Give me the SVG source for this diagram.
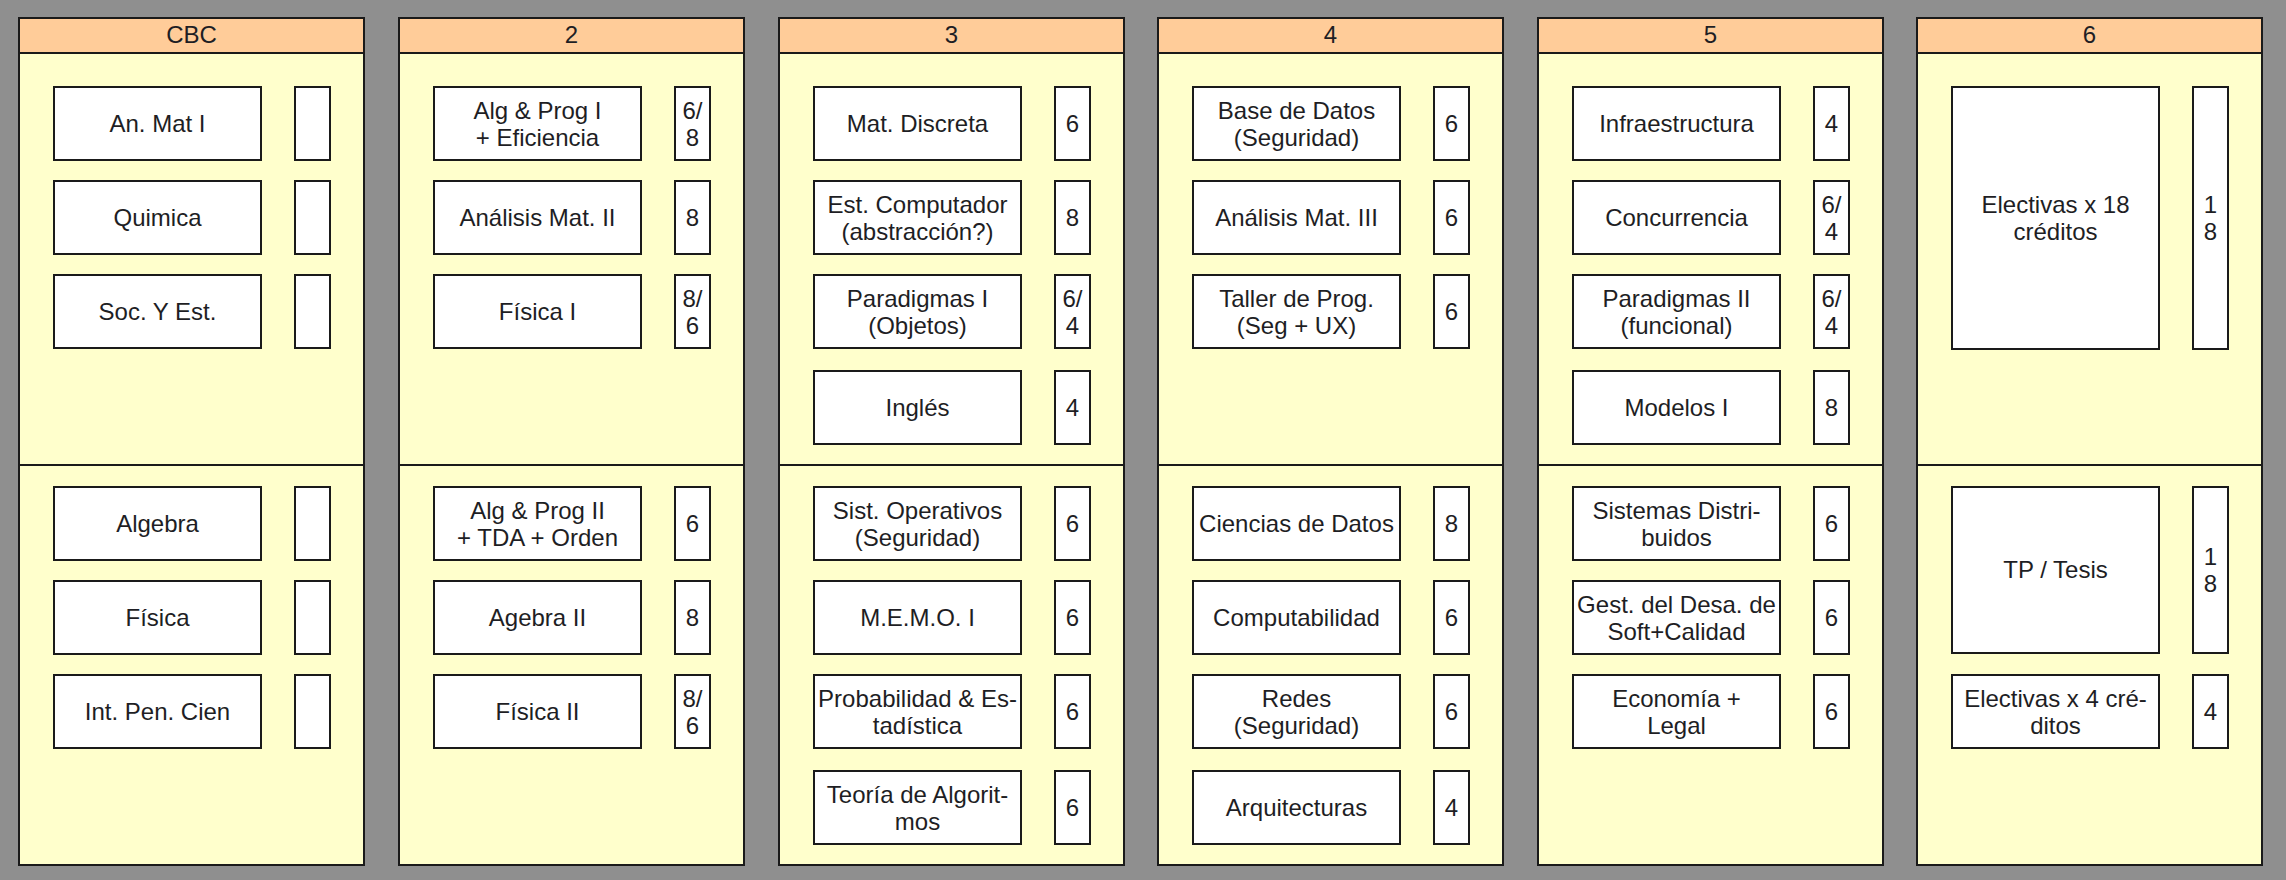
<svg xmlns="http://www.w3.org/2000/svg" width="2286" height="880" viewBox="0 0 2286 880">
<style>
.bg{fill:#8f8f8f}
.panel{fill:#ffffcc;stroke:#1a1a1a;stroke-width:2}
.hdr{fill:#ffcc99;stroke:#1a1a1a;stroke-width:2}
.div{stroke:#1a1a1a;stroke-width:2}
.box{fill:#ffffff;stroke:#1a1a1a;stroke-width:2}
text{font-family:"Liberation Sans",Arial,sans-serif;font-size:24px;fill:#1e1e24;text-anchor:middle}
</style>
<rect class="bg" x="0" y="0" width="2286" height="880"/>

<g id="panels">
  <g id="sem-cbc"><rect class="panel" x="19" y="18" width="345" height="847"/><rect class="hdr" x="19" y="18" width="345" height="35"/><line class="div" x1="19" y1="465" x2="364" y2="465"/><text x="191.5" y="43">CBC</text></g>
  <g id="sem-2"><rect class="panel" x="399" y="18" width="345" height="847"/><rect class="hdr" x="399" y="18" width="345" height="35"/><line class="div" x1="399" y1="465" x2="744" y2="465"/><text x="571.5" y="43">2</text></g>
  <g id="sem-3"><rect class="panel" x="779" y="18" width="345" height="847"/><rect class="hdr" x="779" y="18" width="345" height="35"/><line class="div" x1="779" y1="465" x2="1124" y2="465"/><text x="951.5" y="43">3</text></g>
  <g id="sem-4"><rect class="panel" x="1158" y="18" width="345" height="847"/><rect class="hdr" x="1158" y="18" width="345" height="35"/><line class="div" x1="1158" y1="465" x2="1503" y2="465"/><text x="1330.5" y="43">4</text></g>
  <g id="sem-5"><rect class="panel" x="1538" y="18" width="345" height="847"/><rect class="hdr" x="1538" y="18" width="345" height="35"/><line class="div" x1="1538" y1="465" x2="1883" y2="465"/><text x="1710.5" y="43">5</text></g>
  <g id="sem-6"><rect class="panel" x="1917" y="18" width="345" height="847"/><rect class="hdr" x="1917" y="18" width="345" height="35"/><line class="div" x1="1917" y1="465" x2="2262" y2="465"/><text x="2089.5" y="43">6</text></g>
</g>

<g id="connectors"/>

<!-- CBC -->
<g id="anmat1" transform="translate(19,87)"><rect class="box" x="35" y="0" width="207" height="73"/><rect class="box" x="276" y="0" width="35" height="73"/><text x="138.5" y="45">An. Mat I</text></g>
<g id="quimica" transform="translate(19,181)"><rect class="box" x="35" y="0" width="207" height="73"/><rect class="box" x="276" y="0" width="35" height="73"/><text x="138.5" y="45">Quimica</text></g>
<g id="socyest" transform="translate(19,275)"><rect class="box" x="35" y="0" width="207" height="73"/><rect class="box" x="276" y="0" width="35" height="73"/><text x="138.5" y="45">Soc. Y Est.</text></g>
<g id="algebra" transform="translate(19,487)"><rect class="box" x="35" y="0" width="207" height="73"/><rect class="box" x="276" y="0" width="35" height="73"/><text x="138.5" y="45">Algebra</text></g>
<g id="fisica" transform="translate(19,581)"><rect class="box" x="35" y="0" width="207" height="73"/><rect class="box" x="276" y="0" width="35" height="73"/><text x="138.5" y="45">Física</text></g>
<g id="intpencien" transform="translate(19,675)"><rect class="box" x="35" y="0" width="207" height="73"/><rect class="box" x="276" y="0" width="35" height="73"/><text x="138.5" y="45">Int. Pen. Cien</text></g>

<!-- 2 -->
<g id="algprog1" transform="translate(399,87)"><rect class="box" x="35" y="0" width="207" height="73"/><rect class="box" x="276" y="0" width="35" height="73"/><text x="138.5" y="31.5"><tspan x="138.5">Alg &amp; Prog I</tspan><tspan x="138.5" dy="27">+ Eficiencia</tspan></text><text x="293.5" y="31.5"><tspan x="293.5">6/</tspan><tspan x="293.5" dy="27">8</tspan></text></g>
<g id="anmat2" transform="translate(399,181)"><rect class="box" x="35" y="0" width="207" height="73"/><rect class="box" x="276" y="0" width="35" height="73"/><text x="138.5" y="45">Análisis Mat. II</text><text x="293.5" y="45">8</text></g>
<g id="fisica1" transform="translate(399,275)"><rect class="box" x="35" y="0" width="207" height="73"/><rect class="box" x="276" y="0" width="35" height="73"/><text x="138.5" y="45">Física I</text><text x="293.5" y="31.5"><tspan x="293.5">8/</tspan><tspan x="293.5" dy="27">6</tspan></text></g>
<g id="algprog2" transform="translate(399,487)"><rect class="box" x="35" y="0" width="207" height="73"/><rect class="box" x="276" y="0" width="35" height="73"/><text x="138.5" y="31.5"><tspan x="138.5">Alg &amp; Prog II</tspan><tspan x="138.5" dy="27">+ TDA + Orden</tspan></text><text x="293.5" y="45">6</text></g>
<g id="agebra2" transform="translate(399,581)"><rect class="box" x="35" y="0" width="207" height="73"/><rect class="box" x="276" y="0" width="35" height="73"/><text x="138.5" y="45">Agebra II</text><text x="293.5" y="45">8</text></g>
<g id="fisica2" transform="translate(399,675)"><rect class="box" x="35" y="0" width="207" height="73"/><rect class="box" x="276" y="0" width="35" height="73"/><text x="138.5" y="45">Física II</text><text x="293.5" y="31.5"><tspan x="293.5">8/</tspan><tspan x="293.5" dy="27">6</tspan></text></g>

<!-- 3 -->
<g id="matdiscreta" transform="translate(779,87)"><rect class="box" x="35" y="0" width="207" height="73"/><rect class="box" x="276" y="0" width="35" height="73"/><text x="138.5" y="45">Mat. Discreta</text><text x="293.5" y="45">6</text></g>
<g id="estcomp" transform="translate(779,181)"><rect class="box" x="35" y="0" width="207" height="73"/><rect class="box" x="276" y="0" width="35" height="73"/><text x="138.5" y="31.5"><tspan x="138.5">Est. Computador</tspan><tspan x="138.5" dy="27">(abstracción?)</tspan></text><text x="293.5" y="45">8</text></g>
<g id="paradigmas1" transform="translate(779,275)"><rect class="box" x="35" y="0" width="207" height="73"/><rect class="box" x="276" y="0" width="35" height="73"/><text x="138.5" y="31.5"><tspan x="138.5">Paradigmas I</tspan><tspan x="138.5" dy="27">(Objetos)</tspan></text><text x="293.5" y="31.5"><tspan x="293.5">6/</tspan><tspan x="293.5" dy="27">4</tspan></text></g>
<g id="ingles" transform="translate(779,371)"><rect class="box" x="35" y="0" width="207" height="73"/><rect class="box" x="276" y="0" width="35" height="73"/><text x="138.5" y="45">Inglés</text><text x="293.5" y="45">4</text></g>
<g id="sistop" transform="translate(779,487)"><rect class="box" x="35" y="0" width="207" height="73"/><rect class="box" x="276" y="0" width="35" height="73"/><text x="138.5" y="31.5"><tspan x="138.5">Sist. Operativos</tspan><tspan x="138.5" dy="27">(Seguridad)</tspan></text><text x="293.5" y="45">6</text></g>
<g id="memo1" transform="translate(779,581)"><rect class="box" x="35" y="0" width="207" height="73"/><rect class="box" x="276" y="0" width="35" height="73"/><text x="138.5" y="45">M.E.M.O. I</text><text x="293.5" y="45">6</text></g>
<g id="probest" transform="translate(779,675)"><rect class="box" x="35" y="0" width="207" height="73"/><rect class="box" x="276" y="0" width="35" height="73"/><text x="138.5" y="31.5"><tspan x="138.5">Probabilidad &amp; Es-</tspan><tspan x="138.5" dy="27">tadística</tspan></text><text x="293.5" y="45">6</text></g>
<g id="teoalg" transform="translate(779,771)"><rect class="box" x="35" y="0" width="207" height="73"/><rect class="box" x="276" y="0" width="35" height="73"/><text x="138.5" y="31.5"><tspan x="138.5">Teoría de Algorit-</tspan><tspan x="138.5" dy="27">mos</tspan></text><text x="293.5" y="45">6</text></g>

<!-- 4 -->
<g id="basedatos" transform="translate(1158,87)"><rect class="box" x="35" y="0" width="207" height="73"/><rect class="box" x="276" y="0" width="35" height="73"/><text x="138.5" y="31.5"><tspan x="138.5">Base de Datos</tspan><tspan x="138.5" dy="27">(Seguridad)</tspan></text><text x="293.5" y="45">6</text></g>
<g id="anmat3" transform="translate(1158,181)"><rect class="box" x="35" y="0" width="207" height="73"/><rect class="box" x="276" y="0" width="35" height="73"/><text x="138.5" y="45">Análisis Mat. III</text><text x="293.5" y="45">6</text></g>
<g id="tallerprog" transform="translate(1158,275)"><rect class="box" x="35" y="0" width="207" height="73"/><rect class="box" x="276" y="0" width="35" height="73"/><text x="138.5" y="31.5"><tspan x="138.5">Taller de Prog.</tspan><tspan x="138.5" dy="27">(Seg + UX)</tspan></text><text x="293.5" y="45">6</text></g>
<g id="cienciasdatos" transform="translate(1158,487)"><rect class="box" x="35" y="0" width="207" height="73"/><rect class="box" x="276" y="0" width="35" height="73"/><text x="138.5" y="45">Ciencias de Datos</text><text x="293.5" y="45">8</text></g>
<g id="computabilidad" transform="translate(1158,581)"><rect class="box" x="35" y="0" width="207" height="73"/><rect class="box" x="276" y="0" width="35" height="73"/><text x="138.5" y="45">Computabilidad</text><text x="293.5" y="45">6</text></g>
<g id="redes" transform="translate(1158,675)"><rect class="box" x="35" y="0" width="207" height="73"/><rect class="box" x="276" y="0" width="35" height="73"/><text x="138.5" y="31.5"><tspan x="138.5">Redes</tspan><tspan x="138.5" dy="27">(Seguridad)</tspan></text><text x="293.5" y="45">6</text></g>
<g id="arquitecturas" transform="translate(1158,771)"><rect class="box" x="35" y="0" width="207" height="73"/><rect class="box" x="276" y="0" width="35" height="73"/><text x="138.5" y="45">Arquitecturas</text><text x="293.5" y="45">4</text></g>

<!-- 5 -->
<g id="infraestructura" transform="translate(1538,87)"><rect class="box" x="35" y="0" width="207" height="73"/><rect class="box" x="276" y="0" width="35" height="73"/><text x="138.5" y="45">Infraestructura</text><text x="293.5" y="45">4</text></g>
<g id="concurrencia" transform="translate(1538,181)"><rect class="box" x="35" y="0" width="207" height="73"/><rect class="box" x="276" y="0" width="35" height="73"/><text x="138.5" y="45">Concurrencia</text><text x="293.5" y="31.5"><tspan x="293.5">6/</tspan><tspan x="293.5" dy="27">4</tspan></text></g>
<g id="paradigmas2" transform="translate(1538,275)"><rect class="box" x="35" y="0" width="207" height="73"/><rect class="box" x="276" y="0" width="35" height="73"/><text x="138.5" y="31.5"><tspan x="138.5">Paradigmas II</tspan><tspan x="138.5" dy="27">(funcional)</tspan></text><text x="293.5" y="31.5"><tspan x="293.5">6/</tspan><tspan x="293.5" dy="27">4</tspan></text></g>
<g id="modelos1" transform="translate(1538,371)"><rect class="box" x="35" y="0" width="207" height="73"/><rect class="box" x="276" y="0" width="35" height="73"/><text x="138.5" y="45">Modelos I</text><text x="293.5" y="45">8</text></g>
<g id="sistdist" transform="translate(1538,487)"><rect class="box" x="35" y="0" width="207" height="73"/><rect class="box" x="276" y="0" width="35" height="73"/><text x="138.5" y="31.5"><tspan x="138.5">Sistemas Distri-</tspan><tspan x="138.5" dy="27">buidos</tspan></text><text x="293.5" y="45">6</text></g>
<g id="gestdesa" transform="translate(1538,581)"><rect class="box" x="35" y="0" width="207" height="73"/><rect class="box" x="276" y="0" width="35" height="73"/><text x="138.5" y="31.5"><tspan x="138.5">Gest. del Desa. de</tspan><tspan x="138.5" dy="27">Soft+Calidad</tspan></text><text x="293.5" y="45">6</text></g>
<g id="economia" transform="translate(1538,675)"><rect class="box" x="35" y="0" width="207" height="73"/><rect class="box" x="276" y="0" width="35" height="73"/><text x="138.5" y="31.5"><tspan x="138.5">Economía +</tspan><tspan x="138.5" dy="27">Legal</tspan></text><text x="293.5" y="45">6</text></g>

<!-- 6 -->
<g id="electivas18" transform="translate(1917,87)"><rect class="box" x="35" y="0" width="207" height="262"/><rect class="box" x="276" y="0" width="35" height="262"/><text x="138.5" y="126"><tspan x="138.5">Electivas x 18</tspan><tspan x="138.5" dy="27">créditos</tspan></text><text x="293.5" y="126"><tspan x="293.5">1</tspan><tspan x="293.5" dy="27">8</tspan></text></g>
<g id="tptesis" transform="translate(1917,487)"><rect class="box" x="35" y="0" width="207" height="166"/><rect class="box" x="276" y="0" width="35" height="166"/><text x="138.5" y="91">TP / Tesis</text><text x="293.5" y="78"><tspan x="293.5">1</tspan><tspan x="293.5" dy="27">8</tspan></text></g>
<g id="electivas4" transform="translate(1917,675)"><rect class="box" x="35" y="0" width="207" height="73"/><rect class="box" x="276" y="0" width="35" height="73"/><text x="138.5" y="31.5"><tspan x="138.5">Electivas x 4 cré-</tspan><tspan x="138.5" dy="27">ditos</tspan></text><text x="293.5" y="45">4</text></g>
</svg>
